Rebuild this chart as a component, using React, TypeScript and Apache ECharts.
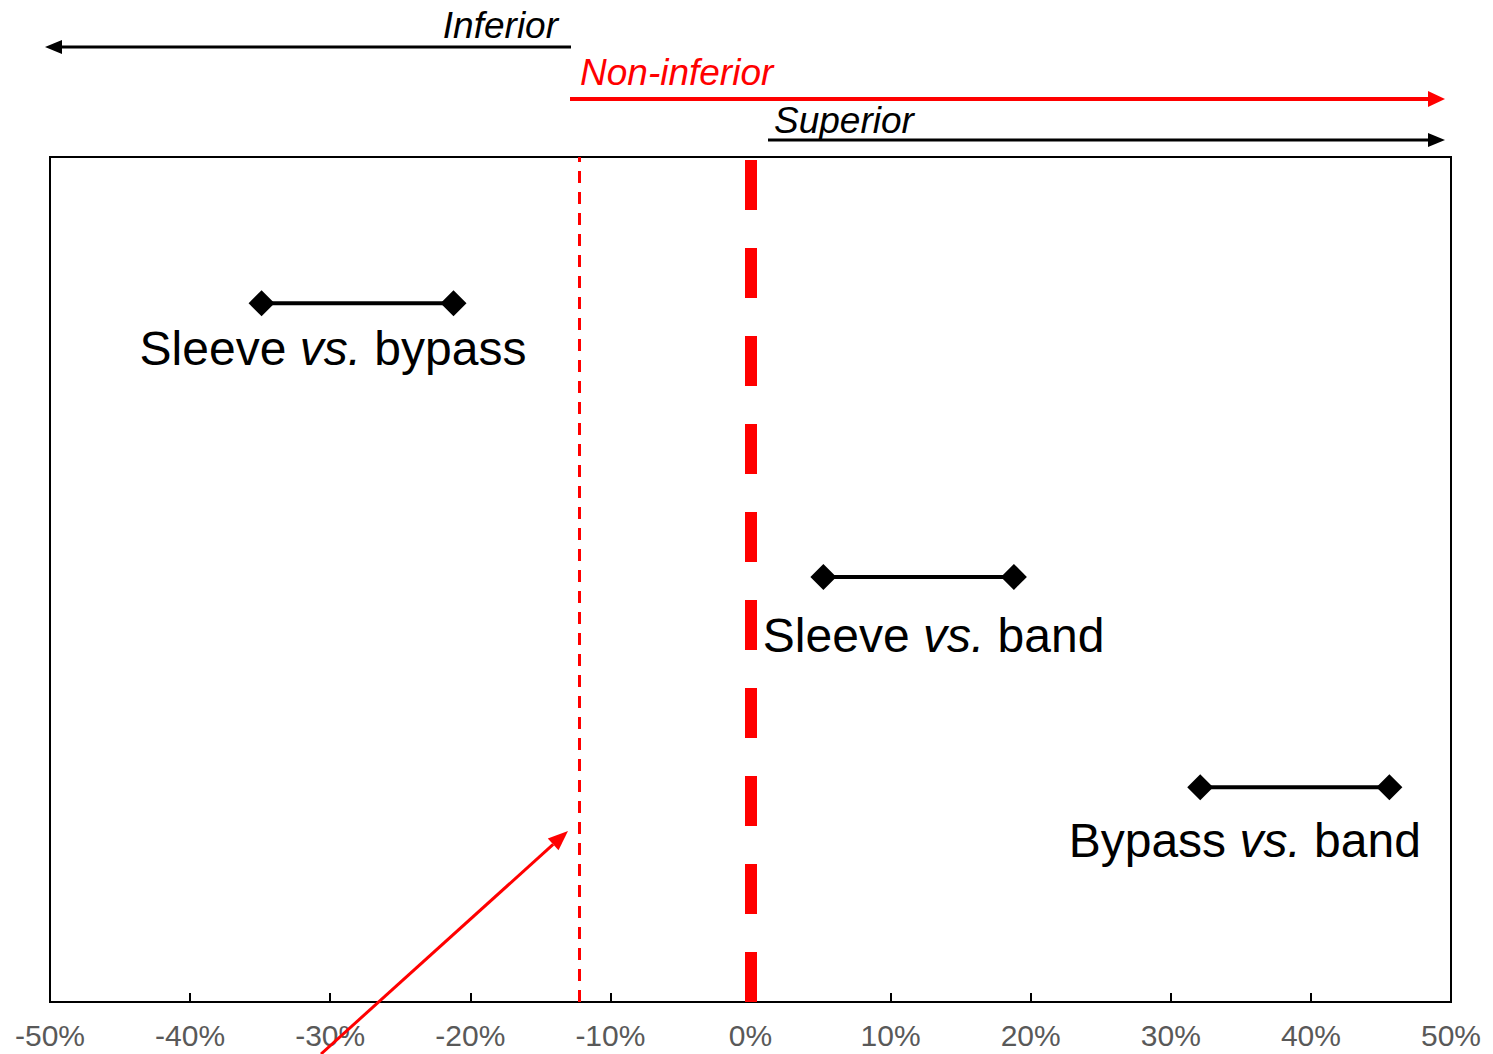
import React, { useEffect, useRef } from "react";
import * as echarts from "echarts";

// Comparisons (rows from top to bottom)
const comparisons = ["Sleeve", "Sleeve", "Bypass"];
const against = ["bypass", "band", "band"];
// Confidence interval bounds of the difference (%)
const lowerBound = [-34.9, 5.2, 32.1];
const upperBound = [-21.2, 18.8, 45.6];
// Vertical position of each row on a hidden 0-100 scale
const rowLevel = [82.7, 50.3, 25.4];
// Reference lines (%)
const zeroLine = 0;
const marginLine = -12.2;
// X axis
const xMin = -50;
const xMax = 50;
const xStep = 10;

const FONT = '"Liberation Sans", Arial, sans-serif';
const labelOffsets: [number, number][] = [
  [-24.5, 45],
  [15, 59],
  [-50, 53],
];

export default function App() {
  const ref = useRef<HTMLDivElement>(null);

  useEffect(() => {
    if (!ref.current) return;
    const chart = echarts.init(ref.current, undefined, { renderer: "svg" });

    const intervalSeries = comparisons.map((c, i) => ({
      type: "line",
      name: `${c} vs. ${against[i]}`,
      data: [
        [lowerBound[i], rowLevel[i]],
        [upperBound[i], rowLevel[i]],
      ],
      symbol: "diamond",
      symbolSize: 26,
      showAllSymbol: true,
      lineStyle: { color: "#000", width: 4 },
      itemStyle: { color: "#000" },
      z: 5,
      silent: true,
      ...(i === 0
        ? {
            markLine: {
              silent: true,
              symbol: ["none", "none"],
              label: { show: false },
              data: [
                {
                  xAxis: zeroLine,
                  lineStyle: { color: "#ff0000", width: 12, type: [50, 38] },
                },
                {
                  xAxis: marginLine,
                  lineStyle: { color: "#ff0000", width: 3, type: [12, 9] },
                },
              ],
            },
          }
        : {}),
    }));

    const labelSeries = comparisons.map((c, i) => ({
      type: "scatter",
      data: [[(lowerBound[i] + upperBound[i]) / 2, rowLevel[i]]],
      symbolSize: 0,
      silent: true,
      itemStyle: { color: "#000", opacity: 1 },
      label: {
        show: true,
        position: "inside",
        offset: labelOffsets[i],
        color: "#000",
        opacity: 1,
        textBorderWidth: 0,
        formatter: `{n|${c} }{i|vs.}{n| ${against[i]}}`,
        rich: {
          n: { fontFamily: FONT, fontSize: 48, color: "#000", textBorderWidth: 0 },
          i: { fontFamily: FONT, fontSize: 48, color: "#000", fontStyle: "italic", textBorderWidth: 0 },
        },
      },
    }));

    // Red pointer arrow
    const tip = [568, 831];
    const start = [321, 1054];
    const dx = tip[0] - start[0];
    const dy = tip[1] - start[1];
    const len = Math.sqrt(dx * dx + dy * dy);
    const ux = dx / len;
    const uy = dy / len;
    const hl = 20;
    const hw = 8;
    const bx = tip[0] - ux * hl;
    const by = tip[1] - uy * hl;

    const option: any = {
      animation: false,
      backgroundColor: "#fff",
      grid: {
        left: 50,
        right: 42,
        top: 157,
        bottom: 52,
        show: true,
        borderColor: "#000",
        borderWidth: 2,
        outerBoundsMode: "none",
        containLabel: false,
      },
      xAxis: {
        type: "value",
        min: xMin,
        max: xMax,
        interval: xStep,
        axisLine: { show: true, onZero: false, lineStyle: { color: "#000", width: 2 } },
        axisTick: { show: true, inside: true, length: 9, lineStyle: { color: "#000", width: 2 } },
        splitLine: { show: false },
        axisLabel: {
          formatter: (v: number) => `${v}%`,
          color: "#595959",
          fontFamily: FONT,
          fontSize: 30,
          margin: 18,
        },
      },
      yAxis: {
        type: "value",
        min: 0,
        max: 100,
        show: false,
        splitLine: { show: false },
      },
      series: [...intervalSeries, ...labelSeries],
      graphic: [
        // Inferior
        { type: "line", shape: { x1: 571, y1: 47, x2: 58, y2: 47 }, style: { stroke: "#000", lineWidth: 3 } },
        { type: "polygon", shape: { points: [[45, 47], [62, 40], [62, 54]] }, style: { fill: "#000" } },
        {
          type: "text",
          x: 558,
          y: 25,
          style: { text: "Inferior", font: `italic 37px ${FONT}`, fill: "#000", align: "right", verticalAlign: "middle" },
        },
        // Non-inferior
        { type: "line", shape: { x1: 570, y1: 99, x2: 1432, y2: 99 }, style: { stroke: "#ff0000", lineWidth: 4 } },
        { type: "polygon", shape: { points: [[1445, 99], [1428, 91], [1428, 107]] }, style: { fill: "#ff0000" } },
        {
          type: "text",
          x: 580,
          y: 72,
          style: { text: "Non-inferior", font: `italic 37px ${FONT}`, fill: "#ff0000", align: "left", verticalAlign: "middle" },
        },
        // Superior
        { type: "line", shape: { x1: 768, y1: 140, x2: 1432, y2: 140 }, style: { stroke: "#000", lineWidth: 3 } },
        { type: "polygon", shape: { points: [[1445, 140], [1428, 133], [1428, 147]] }, style: { fill: "#000" } },
        {
          type: "text",
          x: 774,
          y: 120,
          style: { text: "Superior", font: `italic 37px ${FONT}`, fill: "#000", align: "left", verticalAlign: "middle" },
        },
        // Red diagonal pointer
        {
          type: "line",
          z: 10,
          shape: { x1: start[0], y1: start[1], x2: bx, y2: by },
          style: { stroke: "#ff0000", lineWidth: 3 },
        },
        {
          type: "polygon",
          z: 10,
          shape: {
            points: [
              [tip[0], tip[1]],
              [bx - uy * hw, by + ux * hw],
              [bx + uy * hw, by - ux * hw],
            ],
          },
          style: { fill: "#ff0000" },
        },
      ],
    };

    chart.setOption(option);
    return () => chart.dispose();
  }, []);

  return (
    <div
      ref={ref}
      style={{ position: "fixed", left: 0, top: 0, width: 1493, height: 1054, background: "#fff" }}
    />
  );
}
